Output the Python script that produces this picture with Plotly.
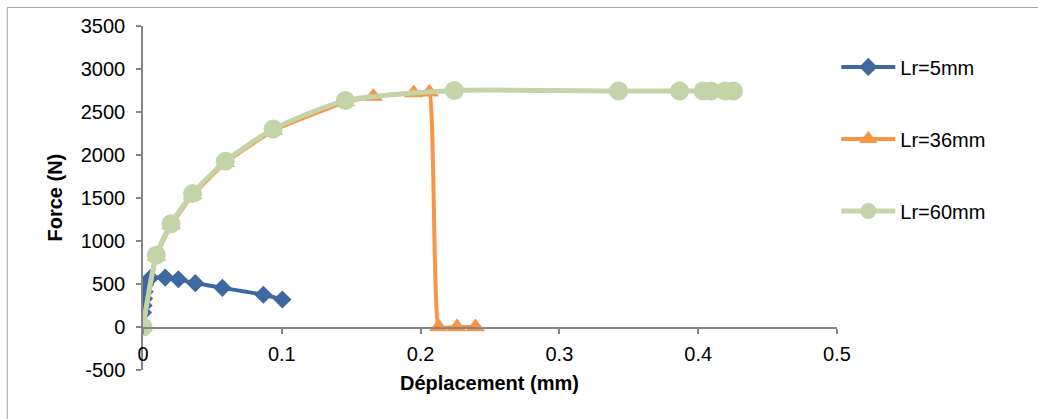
import plotly.graph_objects as go

# Data
x_5mm = [0, 0.0004, 0.0008, 0.0012, 0.0016, 0.0053, 0.016, 0.0255, 0.0377, 0.0572, 0.0867, 0.1004]
y_5mm = [170, 250, 330, 410, 490, 570, 575, 555, 510, 455, 375, 320]

x_36mm = [0, 0.0096, 0.0202, 0.0357, 0.0593, 0.0937, 0.1458, 0.166, 0.195, 0.2063, 0.213, 0.2262, 0.2395]
y_36mm = [0, 820, 1185, 1535, 1910, 2285, 2615, 2680, 2720, 2730, 0, 0, 0]

x_60mm = [0, 0.0096, 0.0202, 0.0357, 0.0593, 0.0937, 0.1458, 0.2243, 0.3427, 0.3866, 0.4035, 0.4092, 0.4195, 0.4255]
y_60mm = [0, 835, 1200, 1551, 1926, 2301, 2633, 2749, 2745, 2745, 2745, 2745, 2745, 2745]

names = ["Lr=5mm", "Lr=36mm", "Lr=60mm"]
x_ticks = [0, 0.1, 0.2, 0.3, 0.4, 0.5]
y_ticks = [-500, 0, 500, 1000, 1500, 2000, 2500, 3000, 3500]

W, H = 1038, 419
L, R, T, B = 142.7, 836.7, 25.5, 370.0

def px_x(p):
    return (p - L) / (R - L)

def px_y(p):
    return (B - p) / (B - T)

FONT = "Liberation Sans, Arial, sans-serif"
BLUE = "#3F68A0"
ORANGE = "#F79646"
GREEN = "#C3D5A8"

fig = go.Figure()
fig.add_trace(go.Scatter(
    x=x_5mm, y=y_5mm, name=names[0], mode="lines+markers", legendgroup="a",
    line=dict(color=BLUE, width=4, shape="spline", smoothing=0.3),
    marker=dict(symbol="diamond", size=14, color=BLUE)))
fig.add_trace(go.Scatter(
    x=x_36mm, y=y_36mm, name=names[1], mode="lines+markers", legendgroup="b",
    line=dict(color=ORANGE, width=4, shape="spline", smoothing=0.3),
    marker=dict(symbol="triangle-up", size=17, color=ORANGE)))
fig.add_trace(go.Scatter(
    x=x_60mm, y=y_60mm, name=names[2], mode="lines+markers", legendgroup="c",
    line=dict(color=GREEN, width=5, shape="spline", smoothing=0.6),
    marker=dict(symbol="circle", size=19, color=GREEN)))

axis_col = "#868686"
fig.update_layout(
    width=W, height=H,
    margin=dict(l=L, r=W - R, t=T, b=H - B, pad=0),
    paper_bgcolor="white", plot_bgcolor="white",
    font=dict(family=FONT, size=20, color="black"),
    showlegend=True,
    legend=dict(x=px_x(836), y=px_y(47), xanchor="left", yanchor="top",
                font=dict(family=FONT, size=20, color="black"),
                tracegroupgap=43, itemwidth=54, bgcolor="rgba(0,0,0,0)"),
    xaxis=dict(range=[0, 0.5], tickvals=x_ticks, ticktext=[str(v) for v in x_ticks],
               showgrid=False, zeroline=False, showline=True, linecolor=axis_col,
               linewidth=1.5, ticks="outside", ticklen=5, tickcolor=axis_col,
               tickwidth=1.5, anchor="free", position=px_y(327.7),
               ticklabelstandoff=3, tickfont=dict(size=20)),
    yaxis=dict(range=[-500, 3500], tickvals=y_ticks, ticktext=[str(v) for v in y_ticks],
               showgrid=False, zeroline=False, showline=True, linecolor=axis_col,
               linewidth=1.5, ticks="outside", ticklen=5, tickcolor=axis_col,
               tickwidth=1.5, ticklabelstandoff=7, tickfont=dict(size=20)),
    annotations=[
        dict(text="<b>Déplacement (mm)</b>", xref="paper", yref="paper",
             x=px_x(489), y=px_y(383), xanchor="center", yanchor="middle",
             showarrow=False, font=dict(family=FONT, size=20)),
        dict(text="<b>Force (N)</b>", xref="paper", yref="paper",
             x=px_x(55), y=px_y(197), xanchor="center", yanchor="middle",
             textangle=-90, showarrow=False, font=dict(family=FONT, size=20)),
    ],
    shapes=[
        dict(type="line", xref="paper", yref="paper", x0=px_x(7), x1=px_x(7),
             y0=px_y(7), y1=px_y(425), line=dict(color="#A6A6A6", width=1)),
        dict(type="line", xref="paper", yref="paper", x0=px_x(7), x1=px_x(1045),
             y0=px_y(7), y1=px_y(7), line=dict(color="#A6A6A6", width=1)),
    ],
)

fig.write_html("out.html", config={"displayModeBar": False},
               post_script="document.body.style.margin='0';document.body.style.overflow='hidden';")
